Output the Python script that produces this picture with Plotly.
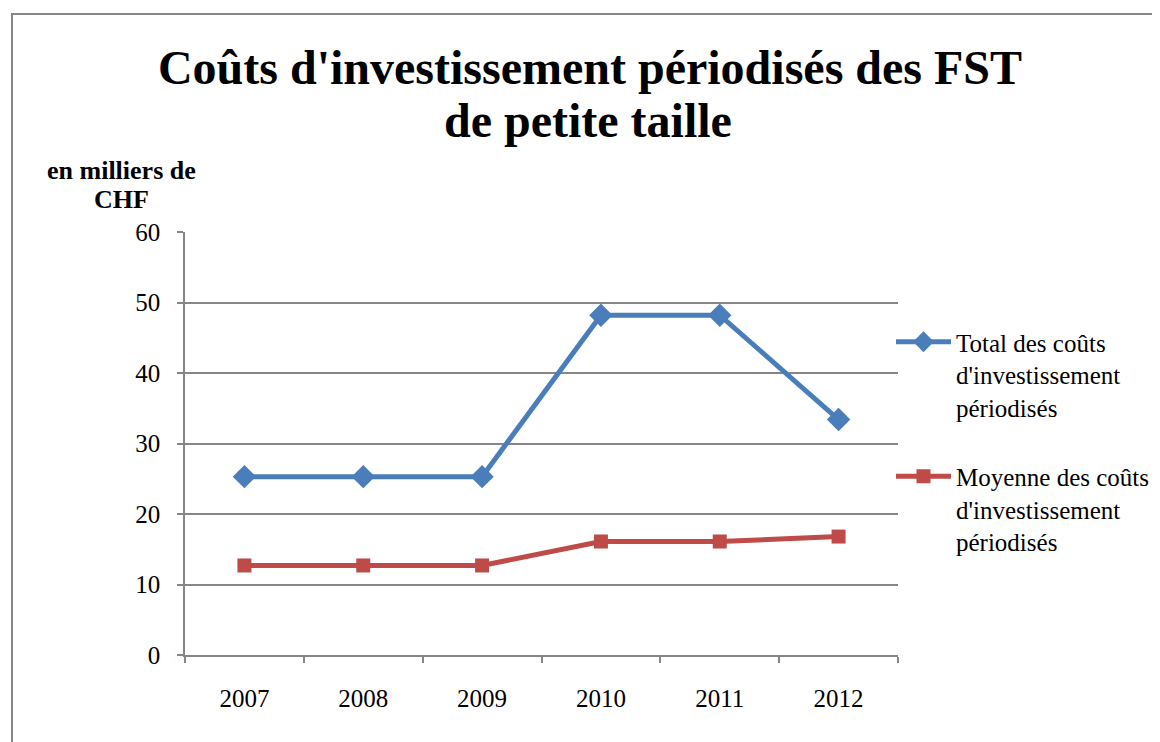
import plotly.graph_objects as go

years = ["2007", "2008", "2009", "2010", "2011", "2012"]
total = [25.3, 25.3, 25.3, 48.2, 48.2, 33.4]
moyenne = [12.7, 12.7, 12.7, 16.1, 16.1, 16.8]
y_ticks = [0, 10, 20, 30, 40, 50, 60]

OFF = 8  # page body margin
W, H = 1190 - OFF, 742 - OFF
# plot area in screenshot coordinates
SL, SR, ST, SB = 185, 898, 232, 655
L, R, T, B = SL - OFF, SR - OFF, ST - OFF, SB - OFF
pw, ph = R - L, B - T


def px(sx):
    return (sx - OFF - L) / pw


def py(sy):
    return (B - (sy - OFF)) / ph


FONT = "Liberation Serif"

fig = go.Figure()
fig.add_trace(go.Scatter(
    x=years, y=total, mode="lines+markers",
    name="Total des coûts<br>d'investissement<br>périodisés",
    line=dict(color="#4A7EBB", width=5),
    marker=dict(symbol="diamond", size=18, color="#4A7EBB"),
    legendgroup="a",
))
fig.add_trace(go.Scatter(
    x=years, y=moyenne, mode="lines+markers",
    name="Moyenne des coûts<br>d'investissement<br>périodisés",
    line=dict(color="#BE4B48", width=5),
    marker=dict(symbol="square", size=14, color="#BE4B48"),
    legendgroup="b",
))

fig.update_layout(
    width=W, height=H,
    margin=dict(l=L, r=W - R, t=T, b=H - B),
    paper_bgcolor="white", plot_bgcolor="white",
    font=dict(family=FONT, size=25, color="black"),
    title=dict(
        text="<b>Coûts d'investissement périodisés des FST</b>",
        x=(590 - OFF) / W, xanchor="center", xref="container",
        y=1 - (67 - OFF) / H, yanchor="middle", yref="container",
        font=dict(family=FONT, size=48, color="black"),
    ),
    showlegend=True,
    legend=dict(
        x=px(891), xanchor="left", y=py(319), yanchor="top",
        font=dict(family=FONT, size=25, color="black"),
        tracegroupgap=34, itemwidth=55, valign="top",
        bgcolor="rgba(0,0,0,0)", borderwidth=0,
    ),
    xaxis=dict(
        type="category", tickson="boundaries",
        showgrid=False, showline=True, linecolor="#868686", linewidth=1.5,
        ticks="outside", ticklen=6, tickcolor="#868686", tickwidth=1.5,
        ticklabelstandoff=20,
        tickfont=dict(family=FONT, size=25, color="black"),
        range=[-0.5, 5.5], fixedrange=True,
    ),
    yaxis=dict(
        range=[0, 60], tickvals=y_ticks,
        showgrid=True, gridcolor="#868686", gridwidth=1.5,
        showline=True, linecolor="#868686", linewidth=1.5,
        ticks="outside", ticklen=6, tickcolor="#868686", tickwidth=1.5,
        zeroline=False, ticklabelstandoff=12,
        tickfont=dict(family=FONT, size=25, color="black"),
    ),
    annotations=[
        dict(
            text="<b>de petite taille</b>",
            xref="paper", yref="paper", x=px(588), y=py(120),
            xanchor="center", yanchor="middle", showarrow=False,
            font=dict(family=FONT, size=48, color="black"),
        ),
        dict(
            text="<b>en milliers de</b>",
            xref="paper", yref="paper", x=px(121), y=py(171),
            xanchor="center", yanchor="middle", showarrow=False,
            font=dict(family=FONT, size=26, color="black"),
        ),
        dict(
            text="<b>CHF</b>",
            xref="paper", yref="paper", x=px(121), y=py(200),
            xanchor="center", yanchor="middle", showarrow=False,
            font=dict(family=FONT, size=26, color="black"),
        ),
    ],
    shapes=[dict(
        type="rect", xref="paper", yref="paper",
        x0=px(12), x1=px(1230), y0=py(14), y1=py(800),
        line=dict(color="#868686", width=2), fillcolor="rgba(0,0,0,0)",
        layer="below",
    )],
)

fig.write_html(
    "out.html",
    post_script="document.documentElement.style.overflow='hidden';"
                "document.body.style.overflow='hidden';",
)
